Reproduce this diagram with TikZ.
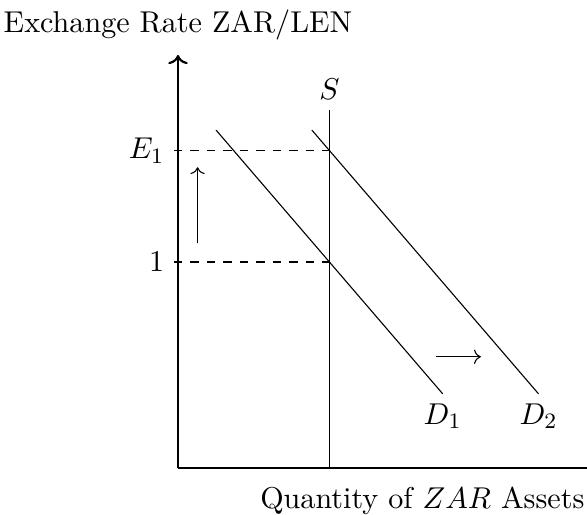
\documentclass[tikz,border=0pt]{standalone}
\usepackage{amsmath,amssymb}
\usetikzlibrary{positioning, calc, arrows.meta}

\begin{document}
\begin{tikzpicture}[scale=1.316,
        every node/.style={font=\fontsize{10.95}{13.6}\selectfont},
        axis/.style={thick},
        guide/.style={dashed},
        shiftarrow/.style={->}]
    \useasboundingbox (-1.728,-0.447) rectangle (3.971,4.544);

    % Axes
    \coordinate (O) at (0,0);
    \coordinate (ytop) at (0,4.01);
    \coordinate (xend) at (3.97,0);
    \draw[axis, ->] (O) -- (ytop);
    \draw[axis] (O) -- (xend);
    \node[above] (ylab) at (0,4.06) {Exchange Rate ZAR/LEN};
    \node[below left] (xlab) at (4.04,-0.09) {Quantity of $ZAR$ Assets};

    % Supply: vertical line
    \coordinate (Sbot) at (1.47,0);
    \coordinate (Stop) at (1.47,3.48);
    \draw (Sbot) -- (Stop);
    \node[above] (Slab) at (Stop) {$S$};

    % Demand curves, D2 shifted right
    \coordinate (D1a) at (0.37,3.28);
    \coordinate (D1b) at (2.57,0.72);
    \coordinate (D2a) at (1.30,3.28);
    \coordinate (D2b) at (3.50,0.72);
    \draw (D1a) -- (D1b);
    \draw (D2a) -- (D2b);
    \node[below] (D1lab) at (D1b) {$D_1$};
    \node[below] (D2lab) at (D2b) {$D_2$};

    % Rate levels on the y-axis
    \node[left] (E1) at (-0.04,3.08) {$E_1$};
    \node[left] (one) at (-0.04,2.0) {$1$};
    \coordinate (E1S) at (1.47,3.08);
    \coordinate (oneS) at (1.47,2.0);
    \draw[guide] (E1.east) -- (E1S);
    \draw[guide] (one.east) -- (oneS);

    % Shift arrows
    \coordinate (upA) at (0.19,2.18);
    \coordinate (upB) at (0.19,2.92);
    \coordinate (rightA) at (2.50,1.08);
    \coordinate (rightB) at (2.94,1.08);
    \draw[shiftarrow] (upA) -- (upB);
    \draw[shiftarrow] (rightA) -- (rightB);
\end{tikzpicture}
\end{document}
